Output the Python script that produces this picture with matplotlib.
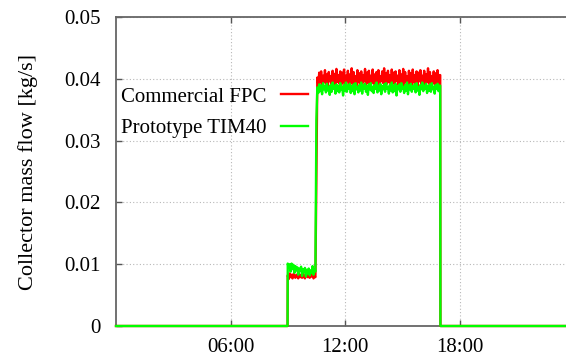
import numpy as np
import matplotlib
matplotlib.use('Agg')
import matplotlib.pyplot as plt

plt.rcParams['font.family'] = ['Liberation Serif', 'DejaVu Serif']
plt.rcParams['font.size'] = 15

# collector mass flow over one day, hours since midnight / kg/s
t_start = 9.0          # pump switched on
t_boost = 10.5         # flow rate raised
t_stop = 17.0          # pump switched off

# low-flow phase, sampled every 3 min from 09:00
fpc_low = [0.0082, 0.0076, 0.0085, 0.0079, 0.0083, 0.0077, 0.0084, 0.0080, 0.0078, 0.0083,
           0.0081, 0.0077, 0.0084, 0.0079, 0.0082, 0.0078, 0.0085, 0.0080, 0.0077, 0.0083,
           0.0081, 0.0079, 0.0084, 0.0078, 0.0082, 0.0080, 0.0083, 0.0077, 0.0081, 0.0079]
tim_low = [0.0101, 0.0094, 0.0100, 0.0088, 0.0101, 0.0092, 0.0099, 0.0086, 0.0097, 0.0090,
           0.0095, 0.0083, 0.0093, 0.0089, 0.0096, 0.0081, 0.0092, 0.0087, 0.0094, 0.0080,
           0.0091, 0.0085, 0.0093, 0.0082, 0.0090, 0.0086, 0.0097, 0.0083, 0.0092, 0.0088]

# high-flow phase, sampled every 3 min from 10:33
fpc_high = [0.0402, 0.0391, 0.0410, 0.0394, 0.0412, 0.0390, 0.0405, 0.0395, 0.0414, 0.0392,
            0.0407, 0.0389, 0.0411, 0.0396, 0.0404, 0.0391, 0.0413, 0.0393, 0.0408, 0.0390,
            0.0416, 0.0395, 0.0406, 0.0392, 0.0412, 0.0389, 0.0410, 0.0394, 0.0415, 0.0391,
            0.0405, 0.0396, 0.0413, 0.0390, 0.0407, 0.0393, 0.0417, 0.0391, 0.0411, 0.0395,
            0.0404, 0.0389, 0.0414, 0.0394, 0.0409, 0.0392, 0.0412, 0.0390, 0.0406, 0.0396,
            0.0416, 0.0391, 0.0410, 0.0393, 0.0413, 0.0389, 0.0405, 0.0395, 0.0415, 0.0392,
            0.0407, 0.0390, 0.0411, 0.0394, 0.0414, 0.0391, 0.0404, 0.0396, 0.0412, 0.0393,
            0.0417, 0.0390, 0.0409, 0.0392, 0.0413, 0.0395, 0.0406, 0.0389, 0.0415, 0.0393,
            0.0410, 0.0391, 0.0412, 0.0396, 0.0405, 0.0390, 0.0414, 0.0394, 0.0407, 0.0392,
            0.0416, 0.0389, 0.0411, 0.0395, 0.0404, 0.0391, 0.0413, 0.0393, 0.0409, 0.0390,
            0.0415, 0.0394, 0.0406, 0.0392, 0.0412, 0.0389, 0.0410, 0.0396, 0.0414, 0.0391,
            0.0405, 0.0393, 0.0413, 0.0390, 0.0407, 0.0395, 0.0417, 0.0392, 0.0411, 0.0389,
            0.0404, 0.0394, 0.0412, 0.0391, 0.0409, 0.0393, 0.0414, 0.0390, 0.0406]
tim_high = [0.0386, 0.0377, 0.0391, 0.0380, 0.0389, 0.0375, 0.0393, 0.0383, 0.0388, 0.0378,
            0.0392, 0.0381, 0.0387, 0.0374, 0.0390, 0.0379, 0.0394, 0.0384, 0.0389, 0.0376,
            0.0391, 0.0380, 0.0388, 0.0378, 0.0393, 0.0383, 0.0387, 0.0373, 0.0390, 0.0381,
            0.0394, 0.0379, 0.0389, 0.0384, 0.0392, 0.0377, 0.0388, 0.0380, 0.0391, 0.0375,
            0.0393, 0.0383, 0.0387, 0.0378, 0.0390, 0.0381, 0.0394, 0.0376, 0.0389, 0.0384,
            0.0392, 0.0379, 0.0388, 0.0374, 0.0391, 0.0383, 0.0393, 0.0380, 0.0387, 0.0377,
            0.0390, 0.0384, 0.0394, 0.0378, 0.0389, 0.0381, 0.0392, 0.0375, 0.0388, 0.0383,
            0.0391, 0.0379, 0.0393, 0.0384, 0.0387, 0.0376, 0.0390, 0.0381, 0.0394, 0.0378,
            0.0389, 0.0380, 0.0392, 0.0373, 0.0388, 0.0383, 0.0391, 0.0379, 0.0393, 0.0384,
            0.0387, 0.0377, 0.0390, 0.0381, 0.0394, 0.0375, 0.0389, 0.0383, 0.0392, 0.0379,
            0.0388, 0.0384, 0.0391, 0.0378, 0.0393, 0.0381, 0.0387, 0.0374, 0.0390, 0.0383,
            0.0394, 0.0380, 0.0389, 0.0384, 0.0392, 0.0377, 0.0388, 0.0381, 0.0391, 0.0379,
            0.0393, 0.0383, 0.0387, 0.0376, 0.0390, 0.0384, 0.0392, 0.0380, 0.0389]
tim_ramp = 0.0333      # single sample while the TIM40 loop speeds up

xticks = [6, 12, 18]
xticklabels = ['06:00', '12:00', '18:00']
yticks = [0, 0.01, 0.02, 0.03, 0.04, 0.05]
yticklabels = ['0', '0.01', '0.02', '0.03', '0.04', '0.05']

dt = 0.05
t_low = t_start + dt * np.arange(len(fpc_low))
t_high = t_boost + dt + dt * np.arange(len(fpc_high))


def series(low, high, ramp=None):
    t = [0.0, t_start - 0.01] + list(t_low)
    v = [0.0, 0.0] + list(low)
    if ramp is not None:
        t.append(t_boost)
        v.append(ramp)
    t += list(t_high) + [t_stop - 0.01, t_stop, 24.0]
    v += list(high) + [high[-1], 0.0, 0.0]
    return t, v


t_fpc, v_fpc = series(fpc_low, fpc_high)
t_tim, v_tim = series(tim_low, tim_high, tim_ramp)

fig = plt.figure(figsize=(5.66, 3.58), dpi=100)
ax = fig.add_axes([116 / 566, 32 / 358, 458 / 566, 309 / 358])

ax.plot(t_fpc, v_fpc, color='#ff0000', lw=1.7, label='Commercial FPC', zorder=3, clip_on=False)
ax.plot(t_tim, v_tim, color='#00ff00', lw=1.7, label='Prototype TIM40', zorder=4, clip_on=False)

ax.set_xlim(0, 24)
ax.set_ylim(0, 0.05)
ax.set_xticks(xticks)
ax.set_xticklabels(xticklabels)
ax.set_yticks(yticks)
ax.set_yticklabels(yticklabels)
ax.set_ylabel('Collector mass flow [kg/s]', fontsize=16, labelpad=19)

ax.grid(True, color='#b8b8b8', lw=0.8, linestyle=(0, (1, 2)))
ax.tick_params(direction='in', length=4, width=1, color='#555555',
               top=True, right=True, pad=11)
ax.tick_params(axis='x', pad=9)
for s in ax.spines.values():
    s.set_color('#666666')
    s.set_linewidth(1.3)

ax.legend(loc='center left', bbox_to_anchor=(0.011, 0.691), frameon=False,
          markerfirst=False, handlelength=1.3, handletextpad=0.7,
          labelspacing=0.55, borderpad=0, borderaxespad=0)

fig.savefig('out.png', dpi=100)
